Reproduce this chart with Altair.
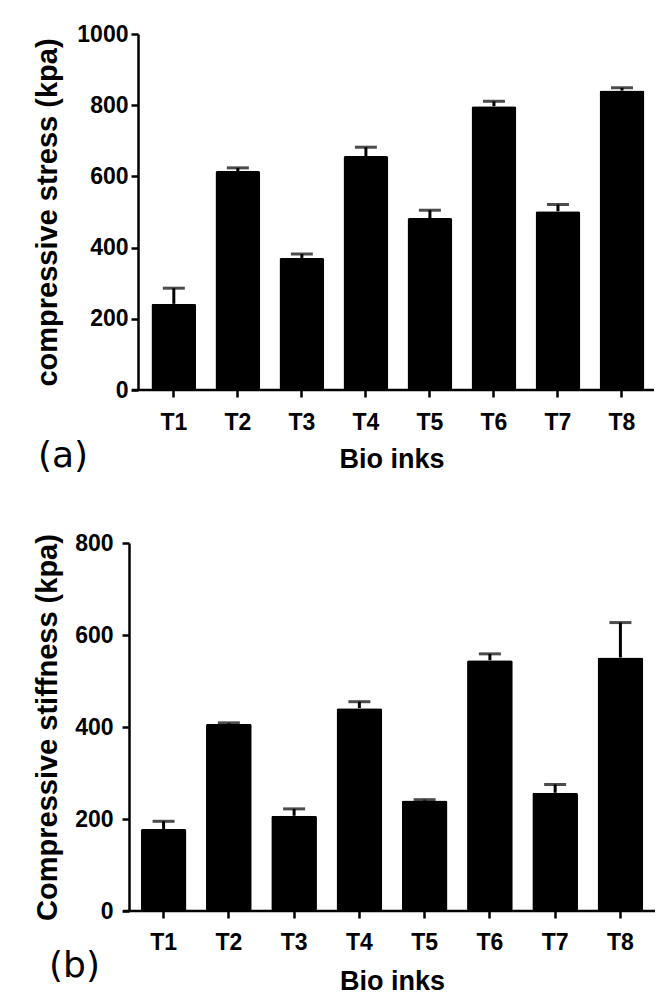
import altair as alt
import pandas as pd

inks = ["T1", "T2", "T3", "T4", "T5", "T6", "T7", "T8"]
stress_mean = [242, 615, 371, 657, 483, 797, 502, 841]
stress_err = [44, 9, 11, 25, 22, 14, 19, 8]
stiff_mean = [178, 407, 207, 441, 240, 545, 257, 551]
stiff_err = [17, 2, 15, 14, 2, 14, 18, 76]

FONT = "Liberation Sans"


def panel(means, errs, ymax, ytitle, tag, width, height, tag_dx, tag_dy,
          y_offset, y_label_pad, y_title_pad, x_label_pad, x_title_pad,
          pad_outer, band_align):
    df = pd.DataFrame({
        "ink": inks,
        "mean": means,
        "upper": [m + e for m, e in zip(means, errs)],
    })
    x = alt.X("ink:N", sort=inks, title="Bio inks",
              scale=alt.Scale(paddingInner=0.3, paddingOuter=pad_outer, align=band_align),
              axis=alt.Axis(labelAngle=0, domain=False, labelPadding=x_label_pad,
                            titlePadding=x_title_pad))

    def y(field):
        return alt.Y(field, title=ytitle,
                     scale=alt.Scale(domain=[0, ymax], nice=False),
                     axis=alt.Axis(values=list(range(0, ymax + 1, 200)), format="d",
                                   offset=y_offset,
                                   labelPadding=y_label_pad, titlePadding=y_title_pad,
                                   titleFontSize=29))

    base = alt.Chart(df)
    bars = base.mark_bar(color="black", cornerRadius=2).encode(x=x, y=y("mean:Q"))
    rule = base.mark_rule(color="black", strokeWidth=3).encode(
        x=x, y=y("mean:Q"), y2="upper:Q")
    cap = base.mark_tick(color="black", size=22, thickness=3).encode(x=x, y=y("upper:Q"))
    one = pd.DataFrame({"t": [tag]})
    baseline = alt.Chart(one).mark_rule(color="black", strokeWidth=2.5).encode(
        x=alt.value(-y_offset - 6), x2=alt.value(width), y=alt.value(height))
    tag_text = alt.Chart(one).mark_text(
        font="DejaVu Sans", fontSize=36, align="left", baseline="middle", color="black"
    ).encode(text="t:N", x=alt.value(tag_dx), y=alt.value(height + tag_dy))
    return alt.layer(bars, rule, cap, baseline, tag_text).properties(
        width=width, height=height)


top = panel(stress_mean, stress_err, 1000, "compressive stress (kpa)", "(a)",
            525, 356, -91, 66, -9, 3, 14, 14, 12, 0.25, 0.7)
bottom = panel(stiff_mean, stiff_err, 800, "Compressive stiffness (kpa)", "(b)",
               526, 368, -80, 55, 0, 9, 12, 13, 14, 0.18, 0.5)

chart = alt.vconcat(top, bottom, spacing=58).properties(
    padding={"left": 25, "top": 15, "right": 5, "bottom": 5},
    background="white",
).configure_axis(
    grid=False,
    domainColor="black", domainWidth=2.5,
    tickColor="black", tickWidth=2.5, tickSize=7,
    labelFont=FONT, labelFontWeight="bold", labelFontSize=23, labelColor="black",
    titleFont=FONT, titleFontWeight="bold", titleFontSize=27, titleColor="black",
).configure_view(stroke=None)

chart.save("out.html", embed_options={"renderer": "svg", "actions": False})
